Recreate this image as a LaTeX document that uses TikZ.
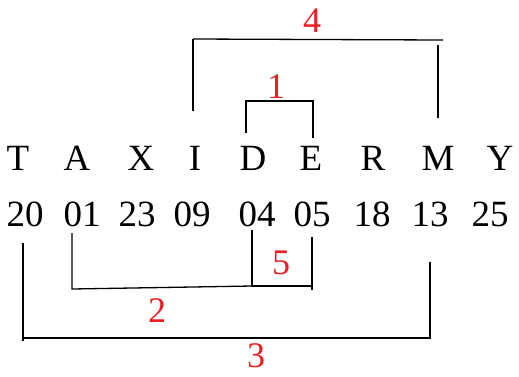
\documentclass[tikz,border=0pt]{standalone}
\usepackage{fontspec}
\setmainfont{Liberation Serif}
\definecolor{lblred}{RGB}{235,30,36}
\begin{document}
\begin{tikzpicture}[x=1pt,y=-1pt,
  txt/.style={inner sep=0pt,anchor=base,font=\fontsize{37}{40}\selectfont},
  lbl/.style={inner sep=0pt,anchor=base,text=lblred,font=\fontsize{36}{40}\selectfont},
  ln/.style={line width=1.3pt,black}]
\useasboundingbox (0,0) rectangle (519,376);
% letters
\foreach \c/\x/\n in {T/18/lT,A/77/lA,X/141/lX,I/195/lI,D/253/lD,E/311/lE,R/373/lR,M/438/lM,Y/500/lY}
  \node[txt] (\n) at (\x,170) {\c};
% numbers
\foreach \c/\x/\n in {20/25/n1,01/82/n2,23/137/n3,09/192/n4,04/257/n5,05/312/n6,18/372/n7,13/430/n8,25/490/n9}
  \node[txt] (\n) at (\x,226) {\c};
% labels
\node[lbl] (L4) at (312,32) {4};
\node[lbl] (L1) at (276,98) {1};
\node[lbl] (L5) at (281,274) {5};
\node[lbl] (L2) at (157,322) {2};
\node[lbl] (L3) at (256,367) {3};
% coordinates
\coordinate (a1) at (193,111); \coordinate (a2) at (193,39);
\coordinate (a3) at (443,40);  \coordinate (a4) at (438,45); \coordinate (a5) at (438,118);
\coordinate (b1) at (246,133); \coordinate (b2) at (246,101);
\coordinate (b3) at (313,101); \coordinate (b4) at (313,138);
\coordinate (c1) at (252,230); \coordinate (c2) at (252,286);
\coordinate (c3) at (313,286); \coordinate (c4) at (312,237); \coordinate (c5) at (312,290);
\coordinate (d1) at (72,233); \coordinate (d2) at (72,289);
\coordinate (e1) at (23,243); \coordinate (e2) at (23,341);
\coordinate (e3) at (23,338); \coordinate (e4) at (431,338);
\coordinate (e5) at (430,262); \coordinate (e6) at (430,339);
% connectors
\draw[ln] (a1) -- (a2);
\draw[ln] (a2) -- (a3);
\draw[ln] (a4) -- (a5);
\draw[ln] (b1) -- (b2) -- (b3) -- (b4);
\draw[ln] (c1) -- (c2) -- (c3);
\draw[ln] (c4) -- (c5);
\draw[ln] (d1) -- (d2) -- (c2);
\draw[ln] (e1) -- (e2);
\draw[ln] (e3) -- (e4);
\draw[ln] (e5) -- (e6);
\end{tikzpicture}
\end{document}
